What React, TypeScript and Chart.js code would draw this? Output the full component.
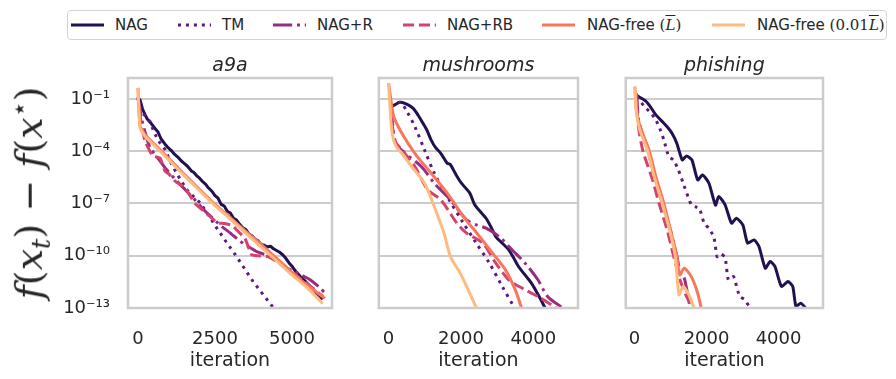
import React, { useEffect, useRef } from "react";
import { Chart, registerables } from "chart.js";
Chart.register(...registerables);

const W = 896;
const H = 379;

const SERIES = ["NAG", "TM", "NAG+R", "NAG+RB", "NAG-free (L̄)", "NAG-free (0.01L̄)"];
const COLORS = ["#221150", "#5f187f", "#982d80", "#d3436e", "#f8765c", "#febb81"];
const DASHES: number[][] = [[], [3, 4.95], [19.2, 4.8, 3, 4.8], [11.1, 4.8], [], []];

const Y_TICKS = [1e-13, 1e-10, 1e-7, 1e-4, 1e-1];
const Y_MIN = 1e-13;
const Y_MAX = 1.585;
const A9A_TICKS = [0, 2500, 5000];
const MUSH_TICKS = [0, 2000, 4000];
const PHISH_TICKS = [0, 2000, 4000];

// data: [iteration, log10(f(x_t) - f(x*))]
const a9aNAG: [number, number][] = [
  [0, -0.95], [65, -1.05], [150, -1.6], [227, -1.9], [300, -2.15], [400, -2.35], [552, -2.7], [650, -2.9],
  [750, -3.3], [877, -3.6], [950, -3.75], [1100, -4.0], [1201, -4.2], [1300, -4.35],
  [1400, -4.55], [1500, -4.7], [1600, -4.85], [1743, -5.15], [1800, -5.2], [1900, -5.4], [2000, -5.55],
  [2100, -5.75], [2200, -5.9], [2283, -6.1], [2400, -6.3], [2500, -6.55], [2600, -6.7], [2700, -7.05],
  [2800, -7.15], [2900, -7.45], [3000, -7.55], [3100, -7.85], [3200, -7.95], [3300, -8.2], [3400, -8.4],
  [3500, -8.5], [3600, -8.75], [3700, -8.85], [3800, -9.05], [3900, -9.15], [4000, -9.35], [4100, -9.4],
  [4200, -9.5], [4300, -9.45], [4400, -9.6], [4500, -9.7], [4600, -9.8], [4700, -9.95], [4800, -10.15],
  [4900, -10.4], [5000, -10.6], [5100, -10.85], [5200, -11.05], [5300, -11.25], [5400, -11.4],
  [5500, -11.6], [5600, -11.8], [5700, -11.95], [5800, -12.15], [5900, -12.3], [6000, -12.5],
];
const a9aTM: [number, number][] = [
  [0, -1.0], [100, -1.6], [200, -1.9], [390, -2.3], [520, -2.9], [660, -3.4], [877, -3.9], [1050, -4.6],
  [1201, -5.1], [1400, -5.7], [1580, -6.2], [1800, -6.6], [2013, -6.95], [2300, -7.7], [2554, -8.4],
  [2900, -9.3], [3204, -10.05], [3500, -10.85], [3744, -11.5], [4050, -12.2], [4380, -12.95], [4450, -13.2],
];
const a9aNAGR: [number, number][] = [
  [0, -0.9], [100, -2.0], [227, -2.9], [390, -3.8], [600, -4.3], [900, -5.0], [1200, -5.6], [1500, -6.15],
  [1800, -6.7], [2100, -7.3], [2400, -7.8], [2700, -8.3], [3000, -8.7], [3300, -9.15], [3600, -9.5],
  [3900, -9.8], [4230, -10.0], [4500, -10.2], [4718, -10.6], [5000, -10.85], [5300, -11.1],
  [5585, -11.38], [5910, -11.84], [6050, -12.1],
];
const a9aNAGRB: [number, number][] = [
  [0, -0.9], [100, -2.4], [227, -3.43], [444, -4.19], [550, -4.3], [720, -4.4], [877, -5.15], [1000, -5.3],
  [1201, -5.72], [1526, -6.1], [1850, -7.0], [2283, -7.65], [2565, -8.1], [2800, -8.15], [3052, -8.25],
  [3250, -8.6], [3474, -9.0], [3690, -9.95], [3900, -10.0], [4230, -10.05], [4666, -10.5], [5000, -10.95],
  [5422, -11.5], [6017, -12.35],
];
const a9aFree: [number, number][] = [
  [0, -0.37], [65, -2.55], [227, -3.05], [600, -3.72], [1000, -4.42], [1500, -5.32], [2000, -6.2],
  [2500, -7.05], [3000, -7.82], [3500, -8.6], [4000, -9.35], [4500, -10.15], [5000, -10.95], [5500, -11.7],
  [6070, -12.45],
];
const a9aFree001: [number, number][] = [
  [0, -0.37], [65, -2.66], [227, -3.14], [600, -3.8], [1000, -4.5], [1500, -5.4], [2000, -6.27],
  [2500, -7.12], [3000, -7.9], [3500, -8.7], [4000, -9.5], [4500, -10.3], [5000, -11.1], [5500, -11.85],
  [6000, -12.75],
];

const mushNAG: [number, number][] = [
  [60, -1.45], [116, -1.4], [322, -1.19], [500, -1.3], [680, -1.54], [820, -1.95], [948, -2.39],
  [1060, -2.8], [1173, -3.35], [1300, -3.8], [1442, -4.12], [1620, -4.69], [1700, -4.75], [1850, -5.3],
  [1979, -5.74], [2100, -6.05], [2247, -6.41], [2381, -7.08], [2550, -7.5], [2693, -7.85], [2830, -8.35],
  [2962, -8.9], [3150, -9.3], [3321, -9.66], [3450, -10.1], [3590, -10.62], [3770, -11.1], [3947, -11.57],
  [4150, -12.3], [4304, -12.91], [4400, -13.3],
];
const mushTM: [number, number][] = [
  [60, -1.45], [322, -1.2], [500, -1.7], [725, -2.59], [993, -3.93], [1262, -5.26], [1620, -6.6],
  [2068, -8.13], [2425, -9.28], [2784, -10.42], [3141, -11.76], [3456, -12.91], [3550, -13.3],
];
const mushNAGR: [number, number][] = [
  [60, -1.45], [120, -2.6], [188, -3.54], [456, -4.12], [904, -4.88], [1262, -5.84], [1710, -6.79],
  [2156, -7.94], [2450, -8.25], [2693, -8.42], [3053, -8.9], [3410, -9.66], [3767, -10.42], [4127, -11.38],
  [4395, -12.34], [4752, -12.91], [4900, -13.1],
];
const mushNAGRB: [number, number][] = [
  [60, -1.45], [120, -2.8], [200, -3.5], [367, -3.93], [725, -4.88], [1082, -6.22], [1442, -6.79],
  [1888, -8.13], [2156, -8.7], [2604, -9.28], [2962, -10.42], [3321, -11.38], [3767, -11.95],
  [4127, -12.34], [4573, -12.91], [4700, -13.1],
];
const mushFree: [number, number][] = [
  [0, -0.1], [60, -1.0], [143, -2.02], [367, -2.97], [725, -4.12], [1173, -5.26], [1620, -6.41],
  [2068, -7.75], [2516, -8.9], [2873, -9.85], [3230, -10.81], [3499, -11.95], [3660, -12.91], [3700, -13.2],
];
const mushFree001: [number, number][] = [
  [0, -0.1], [40, -1.5], [100, -3.0], [200, -3.7], [367, -4.12], [636, -4.88], [993, -5.84], [1262, -7.18],
  [1530, -8.7], [1710, -10.05], [1979, -11.0], [2156, -11.76], [2408, -12.91], [2450, -13.1],
];

const phNAG: [number, number][] = [
  [54, -0.8], [188, -0.96], [322, -1.15], [456, -1.5], [591, -1.92], [700, -2.15], [814, -2.4],
  [904, -2.6], [1039, -2.97], [1173, -3.54], [1324, -4.5], [1442, -4.27], [1593, -4.5], [1754, -5.65],
  [1888, -5.36], [2067, -5.84], [2247, -7.1], [2336, -6.6], [2516, -7.08], [2693, -8.13], [2828, -7.85],
  [3007, -8.23], [3141, -9.28], [3321, -9.09], [3456, -9.47], [3633, -10.72], [3767, -10.33],
  [3901, -10.62], [4081, -11.76], [4260, -11.48], [4394, -11.76], [4484, -12.91], [4618, -12.72],
  [4752, -13.0], [4850, -13.3],
];
const phTM: [number, number][] = [
  [54, -0.87], [277, -1.44], [450, -1.8], [591, -2.2], [700, -2.7], [814, -3.35], [948, -4.31],
  [1082, -4.5], [1217, -5.07], [1351, -5.84], [1576, -7.08], [1700, -7.2], [1799, -7.27], [1933, -8.13],
  [2050, -8.4], [2202, -8.9], [2292, -10.05], [2400, -9.9], [2516, -10.1], [2604, -11.38], [2750, -11.2],
  [2918, -12.34], [3050, -12.5], [3187, -12.91], [3300, -13.2],
];
const phNAGR: [number, number][] = [
  [54, -0.7], [120, -2.3], [367, -4.0], [591, -5.65], [770, -7.0], [993, -8.51], [1173, -10.0],
  [1262, -10.9], [1324, -11.0], [1396, -11.38], [1486, -12.34], [1560, -13.2],
];
const phNAGRB: [number, number][] = [
  [54, -0.7], [100, -2.5], [233, -4.0], [501, -5.65], [680, -7.0], [904, -8.51], [1082, -10.0],
  [1262, -11.38], [1442, -12.34], [1620, -13.0], [1680, -13.2],
];
const phFree: [number, number][] = [
  [8, -0.29], [60, -1.82], [188, -2.78], [411, -4.0], [591, -5.46], [814, -7.0], [1020, -8.7],
  [1173, -10.0], [1253, -11.1], [1378, -10.72], [1576, -11.2], [1754, -12.15], [1862, -13.1],
];
const phFree001: [number, number][] = [
  [8, -0.29], [54, -1.82], [143, -2.78], [367, -4.0], [545, -5.46], [770, -7.0], [993, -8.7],
  [1128, -10.0], [1235, -12.24], [1351, -11.76], [1531, -12.34], [1665, -13.1],
];

const TEXT = "#262626";
const FONT = "'DejaVu Sans', sans-serif";

const SUP: Record<string, string> = {
  "-": "⁻", "0": "⁰", "1": "¹", "2": "²", "3": "³", "4": "⁴", "5": "⁵", "6": "⁶", "7": "⁷", "8": "⁸", "9": "⁹",
};
const sup = (s: string) => s.split("").map((c) => SUP[c] || c).join("");

const framePlugin = {
  id: "frame",
  afterDatasetsDraw(chart: any) {
    const { ctx, chartArea } = chart;
    const { left, top, right, bottom } = chartArea;
    ctx.save();
    ctx.strokeStyle = "#cccccc";
    ctx.lineWidth = 2.5;
    ctx.strokeRect(left, top, right - left, bottom - top);
    ctx.restore();
  },
};

type PanelProps = {
  title: string;
  series: [number, number][][];
  xMin: number;
  xMax: number;
  xTicks: number[];
  frameLeft: number;
  frameRight: number;
  showY: boolean;
  tension: number[];
};

function Panel(p: PanelProps) {
  const ref = useRef<HTMLCanvasElement>(null);
  const yw = p.showY ? p.frameLeft : 12;
  const padR = 12;
  const cw = p.frameRight - p.frameLeft + yw + padR;
  useEffect(() => {
    const datasets = p.series.map((s, i) => ({
      label: SERIES[i],
      data: s.map(([x, l]) => ({ x, y: Math.pow(10, l) })),
      borderColor: COLORS[i],
      backgroundColor: COLORS[i],
      borderWidth: 3,
      borderDash: DASHES[i],
      borderJoinStyle: "round" as const,
      borderCapStyle: "butt" as const,
      pointRadius: 0,
      tension: p.tension[i],
      fill: false,
      clip: 0,
      order: 6 - i,
    }));
    const chart = new Chart(ref.current!, {
      type: "line",
      data: { datasets },
      plugins: [framePlugin],
      options: {
        animation: false,
        responsive: false,
        devicePixelRatio: 1,
        layout: { padding: { left: 0, right: padR, top: 0, bottom: 0 } },
        plugins: {
          legend: { display: false },
          tooltip: { enabled: false },
          title: {
            display: true,
            text: p.title,
            fullSize: false,
            color: TEXT,
            font: { family: FONT, size: 19, style: "italic", weight: "normal", lineHeight: 1.2 },
            padding: { top: 54.6, bottom: 0.6 },
          },
        },
        scales: {
          x: {
            type: "linear",
            min: p.xMin,
            max: p.xMax,
            afterBuildTicks: (s: any) => {
              s.ticks = p.xTicks.map((v) => ({ value: v }));
            },
            afterFit: (s: any) => {
              s.height = H - 308;
            },
            ticks: {
              color: TEXT,
              font: { family: FONT, size: 18 },
              padding: 21,
              autoSkip: false,
              maxRotation: 0,
              callback: (v: any) => String(v),
            },
            grid: { display: false, drawTicks: false },
            border: { display: false },
            title: {
              display: true,
              text: "iteration",
              color: TEXT,
              font: { family: FONT, size: 19 },
              padding: { top: 0, bottom: 7 },
            },
          },
          y: {
            type: "logarithmic",
            min: Y_MIN,
            max: Y_MAX,
            afterBuildTicks: (s: any) => {
              s.ticks = Y_TICKS.map((v) => ({ value: v }));
            },
            afterFit: (s: any) => {
              s.width = yw;
            },
            ticks: {
              display: p.showY,
              color: TEXT,
              font: { family: FONT, size: 18 },
              padding: 18,
              autoSkip: false,
              callback: (v: any) => "10" + sup(String(Math.round(Math.log10(Number(v))))),
            },
            grid: { color: "#cccccc", lineWidth: 2, drawTicks: false },
            border: { display: false },
          },
        },
      } as any,
    });
    return () => chart.destroy();
  }, []);
  return (
    <canvas
      ref={ref}
      width={cw}
      height={H}
      style={{ position: "absolute", left: p.frameLeft - yw, top: 0, width: cw, height: H }}
    />
  );
}

function LegendLine({ color, dash }: { color: string; dash: number[] }) {
  return (
    <svg width={33} height={6} style={{ display: "block" }}>
      <line x1={0} y1={3} x2={33} y2={3} stroke={color} strokeWidth={3}
        strokeDasharray={dash.length ? dash.join(" ") : undefined} />
    </svg>
  );
}

const LEG_LINE_X = [71, 178, 273, 403, 542, 712];
const LEG_TEXT_X = [115, 222, 317, 447, 587, 757];

function Legend() {
  const serif = { fontFamily: "'DejaVu Serif', serif" };
  const labels: React.ReactNode[] = [
    "NAG",
    "TM",
    "NAG+R",
    "NAG+RB",
    <span>NAG-free <span style={serif}>(<i style={{ textDecoration: "overline" }}>L</i>)</span></span>,
    <span>NAG-free <span style={serif}>(0.01<i style={{ textDecoration: "overline" }}>L</i>)</span></span>,
  ];
  return (
    <div>
      <div style={{
        position: "absolute", left: 67, top: 10, width: 820, height: 30, boxSizing: "border-box",
        border: "1.5px solid #d4d4d4", borderRadius: 4, background: "#fff",
      }} />
      {labels.map((lab, i) => (
        <React.Fragment key={i}>
          <div style={{ position: "absolute", left: LEG_LINE_X[i], top: 22 }}>
            <LegendLine color={COLORS[i]} dash={DASHES[i]} />
          </div>
          <div style={{
            position: "absolute", left: LEG_TEXT_X[i], top: 15, height: 20, lineHeight: "20px",
            fontFamily: FONT, fontSize: 15, color: TEXT, whiteSpace: "nowrap",
          }}>{lab}</div>
        </React.Fragment>
      ))}
    </div>
  );
}

function YLabel() {
  const it = { fontStyle: "italic" as const };
  return (
    <div style={{
      position: "absolute", left: 30, top: 193, transform: "translate(-50%, -50%) rotate(-90deg)",
      whiteSpace: "nowrap", fontFamily: "'DejaVu Serif', serif", fontSize: 38, color: TEXT, lineHeight: "44px",
    }}>
      <span style={it}>f</span>(<span style={it}>x</span>
      <sub style={{ fontSize: "0.68em", ...it }}>t</sub>) − <span style={it}>f</span>(<span style={it}>x</span>
      <sup style={{ fontSize: "0.68em" }}>⋆</sup>)
    </div>
  );
}

export default function App() {
  return (
    <div style={{ position: "fixed", left: 0, top: 0, width: W, height: H, background: "#fff", overflow: "hidden" }}>
      <Panel title="a9a" series={[a9aNAG, a9aTM, a9aNAGR, a9aNAGRB, a9aFree, a9aFree001]}
        xMin={-325} xMax={6300} xTicks={A9A_TICKS} frameLeft={128} frameRight={332} showY={true}
        tension={[0, 0, 0.2, 0.1, 0.15, 0.15]} />
      <Panel title="mushrooms" series={[mushNAG, mushTM, mushNAGR, mushNAGRB, mushFree, mushFree001]}
        xMin={-270} xMax={5235} xTicks={MUSH_TICKS} frameLeft={373} frameRight={578} showY={false}
        tension={[0.3, 0.3, 0.3, 0.3, 0.3, 0.3]} />
      <Panel title="phishing" series={[phNAG, phTM, phNAGR, phNAGRB, phFree, phFree001]}
        xMin={-245} xMax={5235} xTicks={PHISH_TICKS} frameLeft={619} frameRight={823} showY={false}
        tension={[0.2, 0.15, 0.2, 0.2, 0.25, 0.2]} />
      <YLabel />
      <Legend />
    </div>
  );
}
